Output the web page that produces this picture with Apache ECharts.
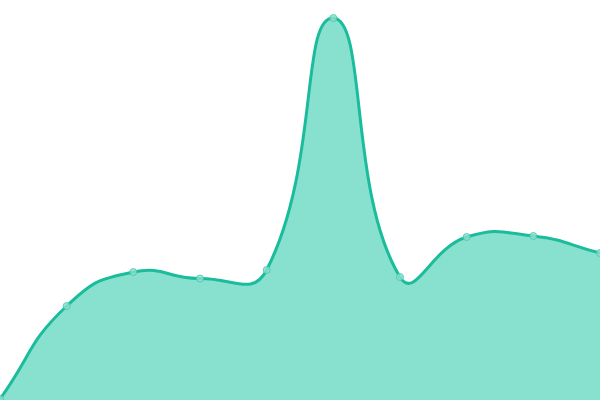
<!DOCTYPE html>
<html><head><meta charset="utf-8">
<script src="https://cdn.jsdelivr.net/npm/echarts@6/dist/echarts.min.js"></script>
<style>html,body{margin:0;padding:0;background:#fff}#c{width:600px;height:400px}</style>
</head><body><div id="c"></div>
<script>
const categories = ['1','2','3','4','5','6','7','8','9','10'];
const values = [1, 94, 128, 121.5, 130, 382, 123, 163, 164, 147];
const SMOOTH = 0.5;
const chart = echarts.init(document.getElementById('c'));

function splinePath(pts) {
  const n = pts.length;
  let d = 'M' + pts[0][0] + ' ' + pts[0][1];
  const cps = [];
  for (let i = 0; i < n; i++) {
    const p = pts[i];
    const prev = pts[Math.max(0, i - 1)];
    const next = pts[Math.min(n - 1, i + 1)];
    const vx = (next[0] - prev[0]) * SMOOTH, vy = (next[1] - prev[1]) * SMOOTH;
    const d0 = Math.hypot(p[0] - prev[0], p[1] - prev[1]);
    const d1 = Math.hypot(p[0] - next[0], p[1] - next[1]);
    const s = d0 + d1 || 1;
    cps.push({
      inX: p[0] - vx * d0 / s, inY: p[1] - vy * d0 / s,
      outX: p[0] + vx * d1 / s, outY: p[1] + vy * d1 / s
    });
  }
  for (let i = 1; i < n; i++) {
    d += ' C' + cps[i - 1].outX + ' ' + cps[i - 1].outY + ' ' + cps[i].inX + ' ' + cps[i].inY + ' ' + pts[i][0] + ' ' + pts[i][1];
  }
  return d;
}

chart.setOption({
  animation: false,
  grid: {left: 0, right: 0, top: 0, bottom: 0},
  xAxis: {type: 'category', data: categories, boundaryGap: false, show: false},
  yAxis: {type: 'value', min: 0, max: 400, show: false},
  series: [{
    type: 'custom',
    coordinateSystem: 'cartesian2d',
    data: values.map((v, i) => [i, v]),
    encode: {x: 0, y: 1},
    clip: false,
    renderItem: function (params, api) {
      if (params.dataIndex !== 0) return null;
      const pts = values.map((v, i) => api.coord([i, v]));
      const base0 = api.coord([0, 0]);
      const baseN = api.coord([values.length - 1, 0]);
      const line = splinePath(pts);
      const area = line + ' L' + baseN[0] + ' ' + baseN[1] + ' L' + base0[0] + ' ' + base0[1] + ' Z';
      return {
        type: 'group',
        children: [
          {type: 'path', shape: {pathData: area}, style: {fill: '#88e0cf', stroke: null}},
          {type: 'path', shape: {pathData: line}, style: {fill: null, stroke: '#1abc9c', lineWidth: 3}}
        ]
      };
    }
  }, {
    type: 'scatter',
    data: values,
    symbol: 'circle',
    symbolSize: 7,
    itemStyle: {color: '#8ee0d0', borderColor: '#45c6aa', borderWidth: 1}
  }]
});
</script></body></html>
